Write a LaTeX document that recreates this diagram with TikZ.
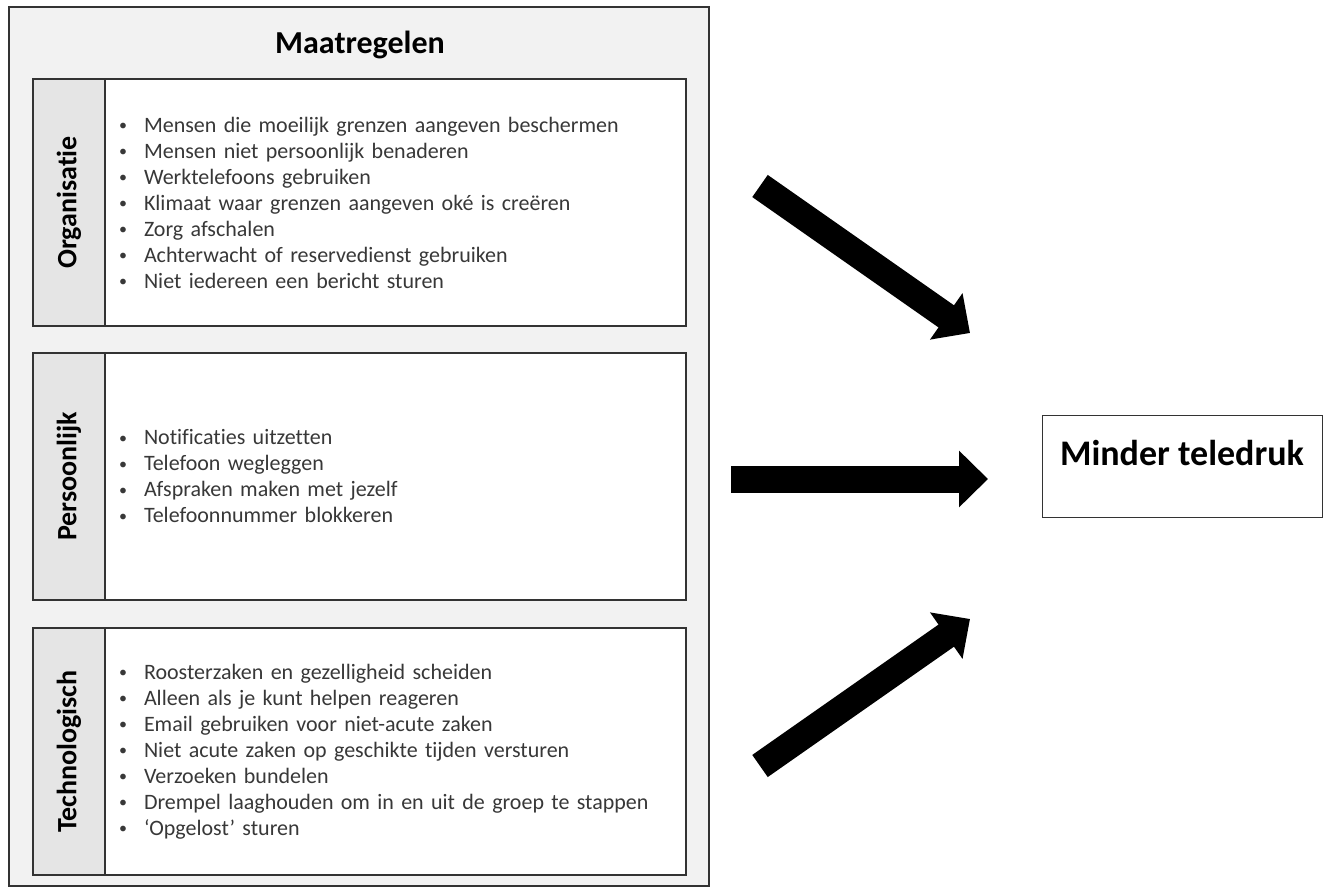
\documentclass[tikz,border=0pt]{standalone}
\usepackage{fontspec}
\setmainfont[Ligatures=NoCommon]{Carlito}
\usepackage{tikz}
\usetikzlibrary{positioning, arrows.meta}

\newcommand{\bul}[1]{\makebox[25pt][l]{\raisebox{1.5pt}{\fontsize{16}{16}\selectfont\textbullet}}#1}

\begin{document}
\begin{tikzpicture}[
    x=1pt, y=-1pt,
    outerstyle/.style={rectangle, draw=black!80, line width=1.3pt, fill=black!5,
        minimum width=700pt, minimum height=879pt},
    titlestyle/.style={font=\fontsize{32}{38}\selectfont\bfseries},
    catstyle/.style={rectangle, draw=black!80, line width=1.3pt, fill=black!10,
        rotate=90, minimum width=247pt, minimum height=72pt,
        font=\fontsize{28}{30}\selectfont\bfseries},
    liststyle/.style={rectangle, draw=black!80, line width=1.3pt, fill=white,
        minimum height=247pt, inner xsep=14pt, text width=553pt, align=left,
        text=black!78, font=\fontsize{22}{26}\selectfont},
    doelstyle/.style={rectangle, draw=black!80, line width=1pt, inner sep=0pt,
        minimum width=280pt, text height=50pt, text depth=52pt,
        font=\fontsize{36}{40}\selectfont\bfseries},
    bigarrow/.style={line width=27pt, -{Triangle[length=29pt, width=55pt]}}
]
\useasboundingbox (0,0) rectangle (1328,888);

\node[outerstyle] (maatr) at (359,446.5) {};
\node[titlestyle] (titel) at (360,45) {Maatregelen};

\node[catstyle] (org) at (69,202.5) {Organisatie};
\node[liststyle] (orglist) at (395.5,202.5) {\bul{Mensen die moeilijk grenzen aangeven beschermen}\\
    \bul{Mensen niet persoonlijk benaderen}\\
    \bul{Werktelefoons gebruiken}\\
    \bul{Klimaat waar grenzen aangeven oké is creëren}\\
    \bul{Zorg afschalen}\\
    \bul{Achterwacht of reservedienst gebruiken}\\
    \bul{Niet iedereen een bericht sturen}};

\node[catstyle] (pers) at (69,476.5) {Persoonlijk};
\node[liststyle] (perslist) at (395.5,476.5) {\bul{Notificaties uitzetten}\\
    \bul{Telefoon wegleggen}\\
    \bul{Afspraken maken met jezelf}\\
    \bul{Telefoonnummer blokkeren}};

\node[catstyle] (tech) at (69,751.5) {Technologisch};
\node[liststyle] (techlist) at (395.5,751.5) {\bul{Roosterzaken en gezelligheid scheiden}\\
    \bul{Alleen als je kunt helpen reageren}\\
    \bul{Email gebruiken voor niet-acute zaken}\\
    \bul{Niet acute zaken op geschikte tijden versturen}\\
    \bul{Verzoeken bundelen}\\
    \bul{Drempel laaghouden om in en uit de groep te stappen}\\
    \bul{‘Opgelost’ sturen}};

\node[doelstyle] (doel) at (1182,466) {Minder teledruk};

\coordinate (a1s) at (760,186);
\coordinate (a1e) at (970,333);
\coordinate (a2s) at (731,479);
\coordinate (a2e) at (988,479);
\coordinate (a3s) at (760,766);
\coordinate (a3e) at (970,619);

\draw[bigarrow] (a1s) -- (a1e);
\draw[bigarrow] (a2s) -- (a2e);
\draw[bigarrow] (a3s) -- (a3e);

\end{tikzpicture}
\end{document}
